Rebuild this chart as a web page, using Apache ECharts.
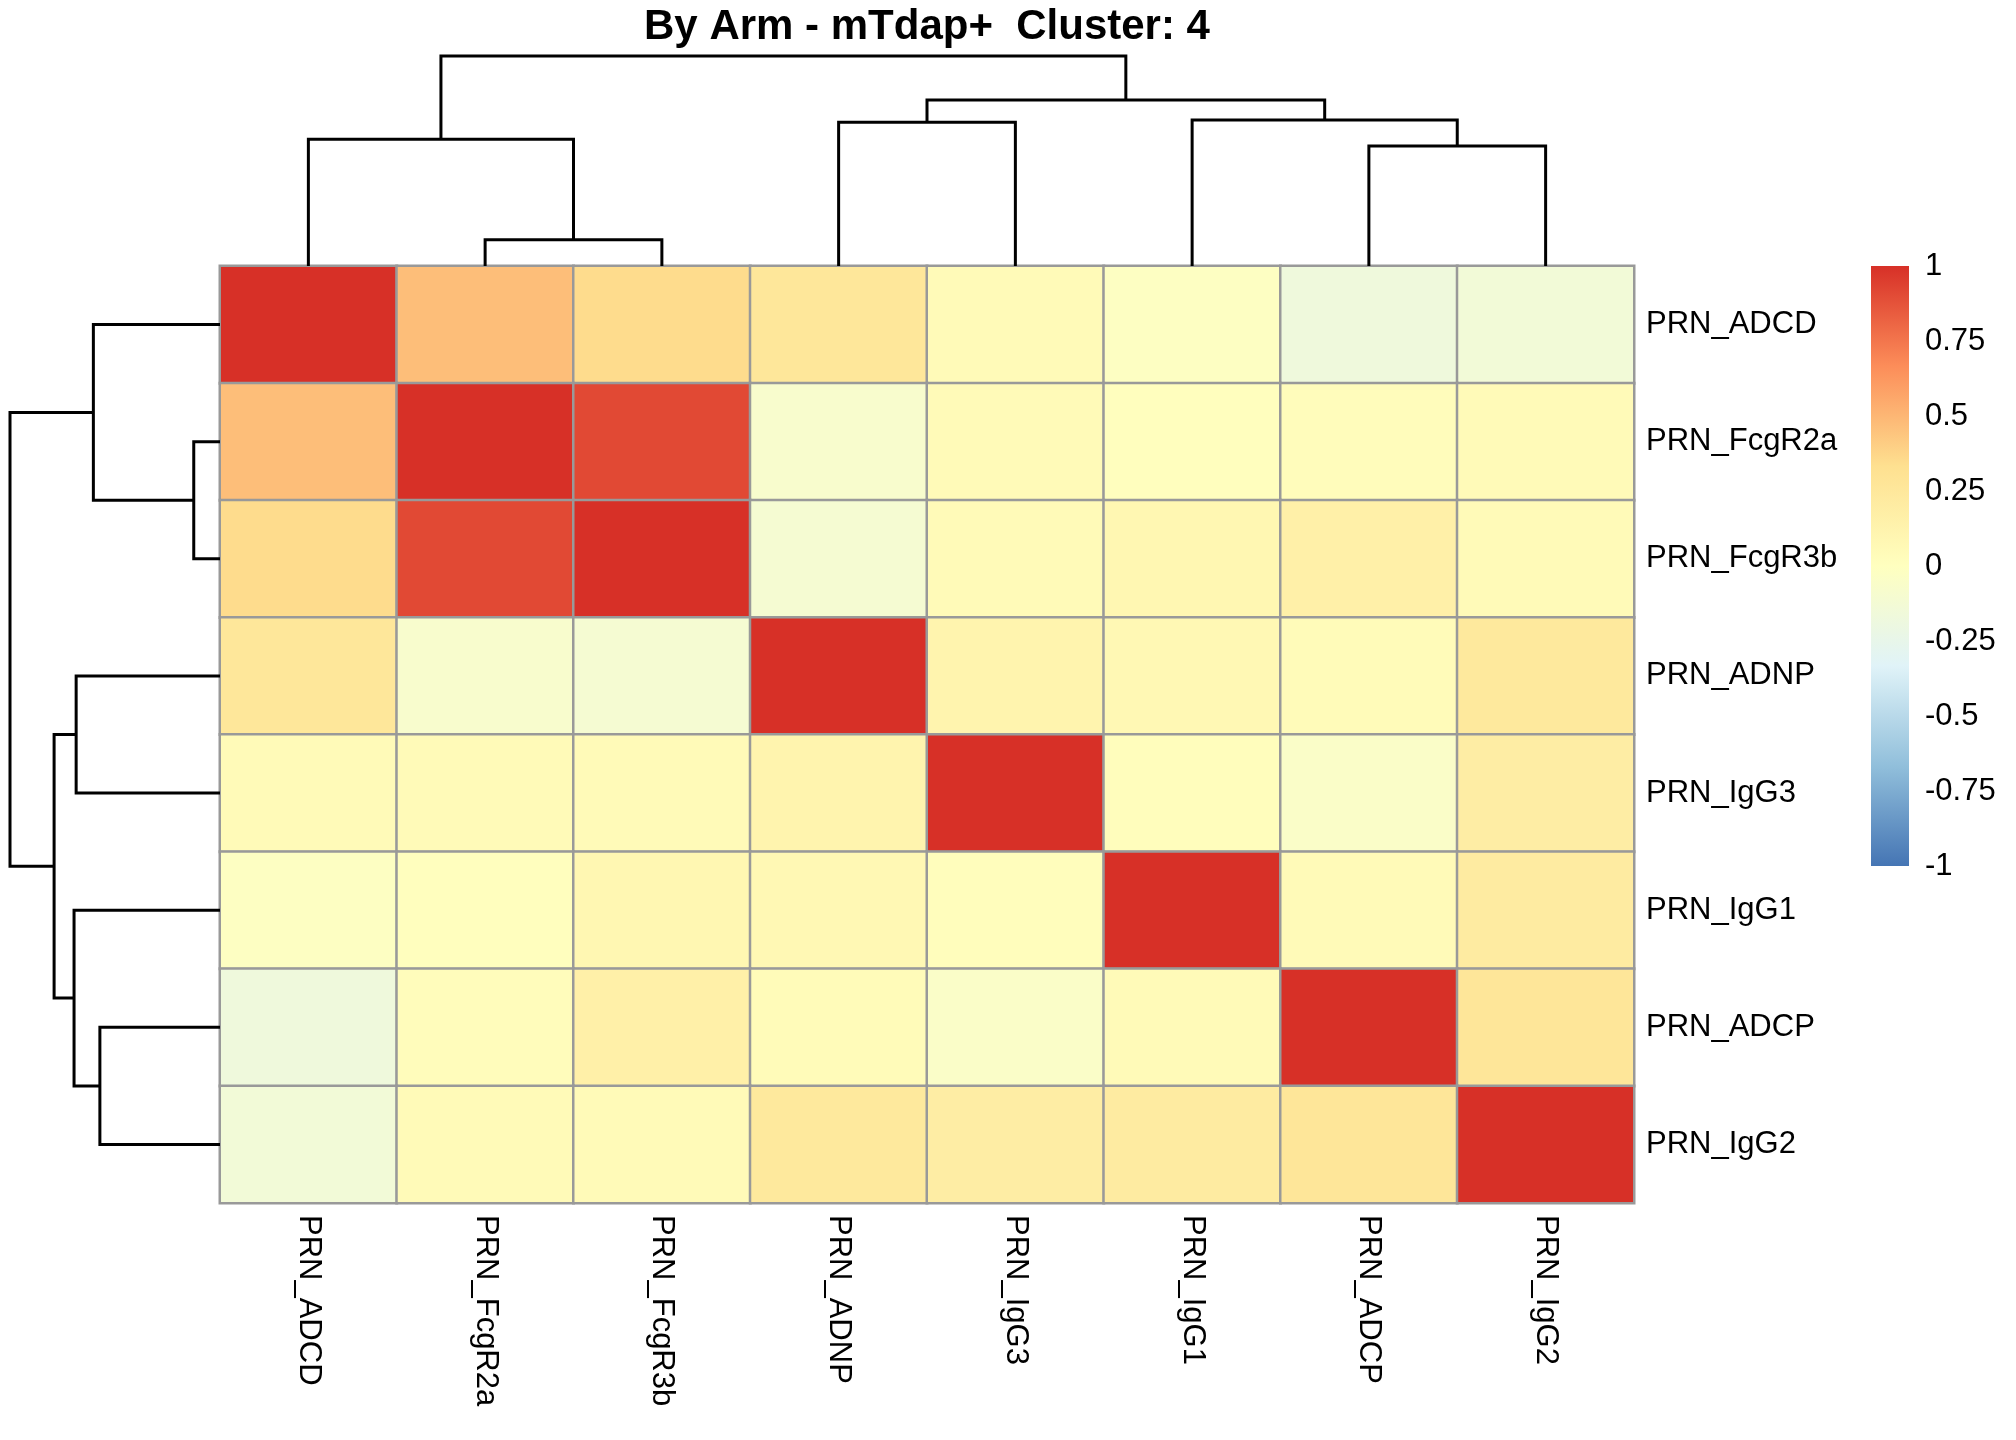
<!DOCTYPE html>
<html>
<head>
<meta charset="utf-8">
<title>By Arm - mTdap+  Cluster: 4</title>
<script src="https://cdn.jsdelivr.net/npm/echarts@6/dist/echarts.min.js"></script>
<style>
    html, body { margin: 0; padding: 0; background: #fff; }
    #main { width: 2016px; height: 1440px; }
</style>
</head>
<body>
<div id="main"></div>
<script>
// order of rows / columns after clustering
const features = ['PRN_ADCD', 'PRN_FcgR2a', 'PRN_FcgR3b', 'PRN_ADNP', 'PRN_IgG3', 'PRN_IgG1', 'PRN_ADCP', 'PRN_IgG2'];

// correlation values, one array per row (same column order as features)
const rowADCD   = [ 1.00,  0.47,  0.35,  0.26,  0.05, -0.02, -0.17, -0.14];
const rowFcgR2a = [ 0.47,  1.00,  0.91, -0.08,  0.05,  0.01,  0.03,  0.05];
const rowFcgR3b = [ 0.35,  0.91,  1.00, -0.11,  0.05,  0.09,  0.16,  0.05];
const rowADNP   = [ 0.26, -0.08, -0.11,  1.00,  0.12,  0.08,  0.04,  0.24];
const rowIgG3   = [ 0.05,  0.05,  0.05,  0.12,  1.00,  0.02, -0.05,  0.19];
const rowIgG1   = [-0.02,  0.01,  0.09,  0.08,  0.02,  1.00,  0.05,  0.21];
const rowADCP   = [-0.17,  0.03,  0.16,  0.04, -0.05,  0.05,  1.00,  0.27];
const rowIgG2   = [-0.14,  0.05,  0.05,  0.24,  0.19,  0.21,  0.27,  1.00];
const corrRows = [rowADCD, rowFcgR2a, rowFcgR3b, rowADNP, rowIgG3, rowIgG1, rowADCP, rowIgG2];

// hclust merges (same tree for rows and columns), 'mN' = result of merge N
const mergeLeft   = ['PRN_FcgR2a', 'PRN_ADCD', 'PRN_ADCP', 'PRN_ADNP', 'PRN_IgG1', 'm3', 'm1'];
const mergeRight  = ['PRN_FcgR3b', 'm0',       'PRN_IgG2', 'PRN_IgG3', 'm2',       'm4', 'm5'];
const mergeHeight = [0.125, 0.603, 0.572, 0.685, 0.695, 0.79, 1.0];

// colour scale
const legendTicks = [-1, -0.75, -0.5, -0.25, 0, 0.25, 0.5, 0.75, 1];
const palette = ['#4575B4', '#91BFDB', '#E0F3F8', '#FFFFBF', '#FEE090', '#FC8D59', '#D73027'];

const FONT = '"Liberation Sans", Arial, sans-serif';

// heatmap cells
const cells = [];
corrRows.forEach(function (row, r) {
    row.forEach(function (v, c) {
        cells.push([c, r, v]);
    });
});

// dendrogram links: [posLeft, hLeft, posRight, hRight, h]
function nodeInfo(name, done) {
    if (name.charAt(0) === 'm') return done[+name.slice(1)];
    return { pos: features.indexOf(name), h: 0 };
}
const links = [];
const done = [];
mergeHeight.forEach(function (h, i) {
    const a = nodeInfo(mergeLeft[i], done);
    const b = nodeInfo(mergeRight[i], done);
    done.push({ pos: (a.pos + b.pos) / 2, h: h });
    links.push([a.pos, a.h, b.pos, b.h, h]);
});

function linkRenderer(horizontal) {
    return function (params, api) {
        const pt = function (pos, h) {
            return horizontal ? api.coord([h, pos]) : api.coord([pos, h]);
        };
        const p0 = api.value(0), h0 = api.value(1), p1 = api.value(2), h1 = api.value(3), h = api.value(4);
        return {
            type: 'polyline',
            shape: { points: [pt(p0, h0), pt(p0, h), pt(p1, h), pt(p1, h1)] },
            style: { stroke: '#000', lineWidth: 3, fill: null }
        };
    };
}

const myChart = echarts.init(document.getElementById('main'));

myChart.setOption({
    animation: false,
    textStyle: { fontFamily: FONT },
    graphic: [{
        type: 'text',
        x: 927,
        y: 27,
        style: {
            text: 'By Arm - mTdap+  Cluster: 4',
            font: 'bold 42px ' + FONT,
            fill: '#000',
            align: 'center',
            verticalAlign: 'middle'
        }
    }],
    grid: [
        { left: 220, top: 266, width: 1414, height: 937 },   // heatmap
        { left: 220, top: 56, width: 1414, height: 210 },    // column dendrogram
        { left: 10, top: 266, width: 210, height: 937 },     // row dendrogram
        { left: 1871, top: 266, width: 38, height: 600 }     // colour legend
    ],
    xAxis: [
        {
            gridIndex: 0,
            type: 'category',
            data: features,
            position: 'bottom',
            axisLine: { show: false },
            axisTick: { show: false },
            axisLabel: { rotate: -90, fontSize: 31, color: '#000', margin: 12, fontFamily: FONT }
        },
        { gridIndex: 1, type: 'value', min: -0.5, max: 7.5, show: false },
        { gridIndex: 2, type: 'value', min: 0, max: 1, inverse: true, show: false },
        { gridIndex: 3, type: 'value', min: 0, max: 1, show: false }
    ],
    yAxis: [
        {
            gridIndex: 0,
            type: 'category',
            data: features,
            inverse: true,
            position: 'right',
            axisLine: { show: false },
            axisTick: { show: false },
            axisLabel: { fontSize: 31, color: '#000', margin: 12, fontFamily: FONT, padding: [8, 0, 0, 0] }
        },
        { gridIndex: 1, type: 'value', min: 0, max: 1, show: false },
        { gridIndex: 2, type: 'value', min: -0.5, max: 7.5, inverse: true, show: false },
        {
            gridIndex: 3,
            type: 'value',
            min: legendTicks[0],
            max: legendTicks[legendTicks.length - 1],
            interval: 0.25,
            position: 'right',
            axisLine: { show: false },
            axisTick: { show: false },
            splitLine: { show: false },
            axisLabel: { fontSize: 31, color: '#000', margin: 16, fontFamily: FONT, padding: [8, 0, 0, 0] }
        }
    ],
    visualMap: {
        show: false,
        seriesIndex: 0,
        min: -1,
        max: 1,
        inRange: { color: palette }
    },
    series: [
        {
            type: 'heatmap',
            xAxisIndex: 0,
            yAxisIndex: 0,
            data: cells,
            itemStyle: { borderColor: '#999999', borderWidth: 2.5 },
            emphasis: { disabled: true },
            label: { show: false }
        },
        {
            type: 'custom',
            xAxisIndex: 1,
            yAxisIndex: 1,
            renderItem: linkRenderer(false),
            data: links,
            silent: true
        },
        {
            type: 'custom',
            xAxisIndex: 2,
            yAxisIndex: 2,
            renderItem: linkRenderer(true),
            data: links,
            silent: true
        },
        {
            type: 'custom',
            xAxisIndex: 3,
            yAxisIndex: 3,
            data: [[legendTicks[0], legendTicks[legendTicks.length - 1]]],
            silent: true,
            renderItem: function (params, api) {
                const lo = api.coord([0, api.value(0)]);
                const hi = api.coord([1, api.value(1)]);
                return {
                    type: 'rect',
                    shape: { x: lo[0], y: hi[1], width: hi[0] - lo[0], height: lo[1] - hi[1] },
                    style: {
                        fill: new echarts.graphic.LinearGradient(0, 1, 0, 0, palette.map(function (c, i) {
                            return { offset: i / (palette.length - 1), color: c };
                        }))
                    }
                };
            }
        }
    ]
});
</script>
</body>
</html>
